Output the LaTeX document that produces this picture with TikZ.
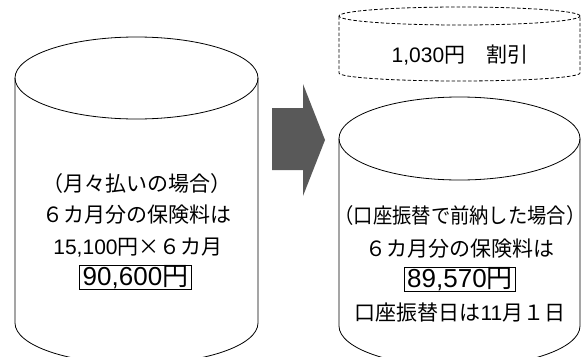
\documentclass[tikz,border=0pt]{standalone}
\usepackage{graphicx}
\usepackage{fontspec}
\setmainfont{Noto Sans CJK JP}
\newfontfamily\latfont{Liberation Sans}
\newcommand{\amt}[1]{{\latfont #1}}
\definecolor{arrowgray}{HTML}{595959}
\begin{document}
\begin{tikzpicture}[x=1pt,y=1pt,
  wall/.style={line width=0.8pt},
  txt/.style={font=\fontsize{21}{25}\selectfont, inner sep=0pt, anchor=base},
  sum/.style={draw, line width=0.7pt, font=\fontsize{26}{30}\selectfont,
    inner xsep=3pt, inner ysep=0pt, text height=20pt, text depth=4pt, anchor=base}]
\useasboundingbox (0,0) rectangle (585,-356);
\clip (0,0) rectangle (585,-356);
% left cylinder
\draw [wall] (136.5,-78) ellipse [x radius=121.5, y radius=41];
\draw [wall] (15,-78) -- (15,-323) arc [start angle=180, end angle=360, x radius=121.5, y radius=41] -- (258,-78);
% arrow
\fill [arrowgray] (272,-108) -- (303,-108) -- (303,-84) -- (325,-140) -- (303,-196) -- (303,-170) -- (272,-170) -- cycle;
% dashed cylinder
\draw [wall, dash pattern=on 3.5pt off 2pt] (459.5,-16) ellipse [x radius=120.5, y radius=9];
\draw [wall, dash pattern=on 3.5pt off 2pt] (339,-16) -- (339,-73) arc [start angle=180, end angle=360, x radius=120.5, y radius=8] -- (580,-16);
% right cylinder
\draw [wall] (459.5,-138.5) ellipse [x radius=120.5, y radius=41.5];
\draw [wall] (339,-138.5) -- (339,-326) arc [start angle=180, end angle=360, x radius=120.5, y radius=41] -- (580,-138.5);

\node [txt] (leftHead) at (136.5,-191) {（月々払いの場合）};
\node [txt] (leftRate) at (136.5,-222) {６カ月分の保険料は};
\node [txt] (leftCalc) at (138,-254) {\amt{15,100}円×６カ月};
\node [sum] (leftSum) at (135.5,-285) {\amt{90,600}円};

\node [txt] (discount) at (460,-62) {\amt{1,030}円　割引};

\node [txt] (rightHead) at (460,-223) {\scalebox{0.92}[1]{（口座振替で前納した場合）}};
\node [txt] (rightRate) at (459.5,-256) {６カ月分の保険料は};
\node [sum] (rightSum) at (460,-287) {\amt{89,570}円};
\node [txt] (rightDate) at (460,-320) {口座振替日は\amt{11}月１日};
\end{tikzpicture}
\end{document}
